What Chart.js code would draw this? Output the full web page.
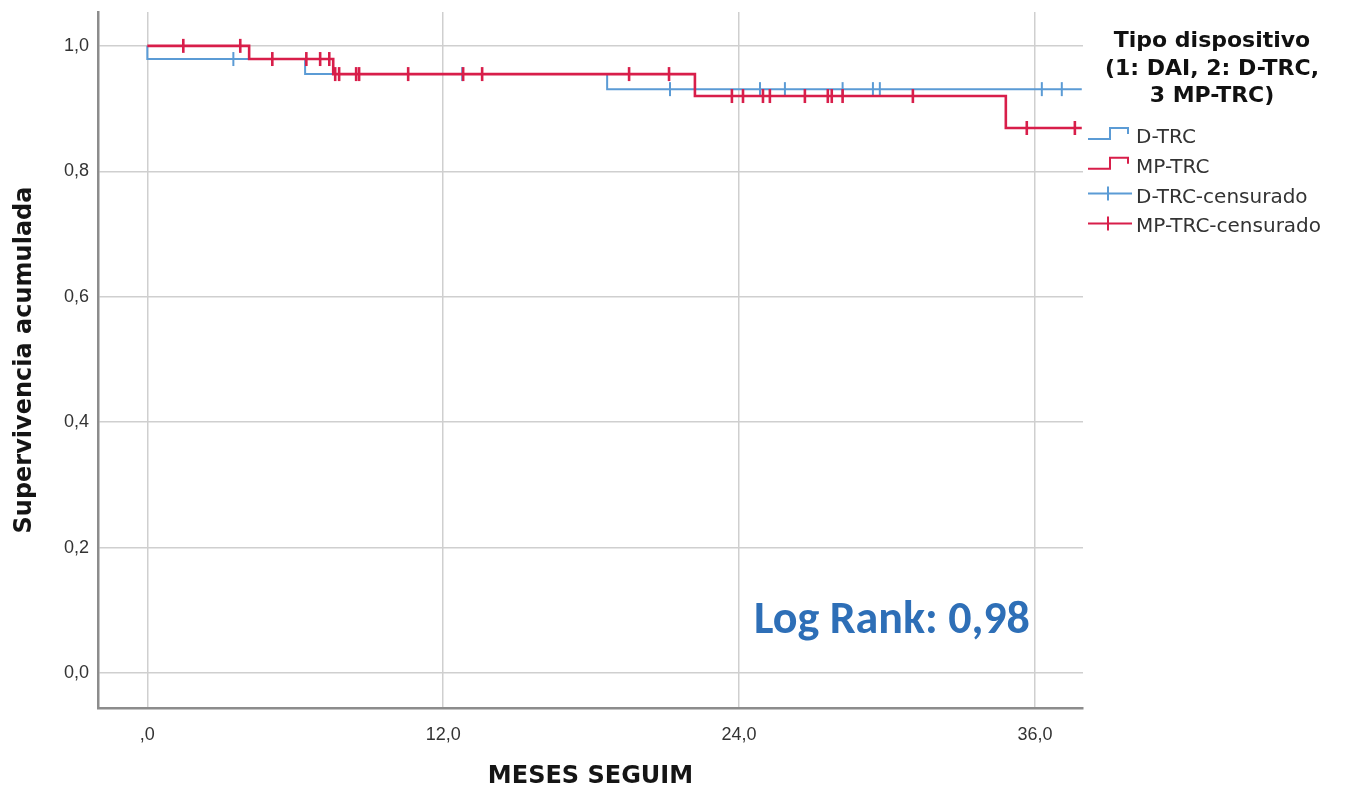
<!DOCTYPE html>
<html lang="es">
<head>
<meta charset="utf-8">
<title>Supervivencia acumulada por tipo de dispositivo</title>
<script src="https://cdn.jsdelivr.net/npm/chart.js@4.4.1/dist/chart.umd.min.js"></script>
<style>
  html, body { margin: 0; padding: 0; background: #fff; }
  #contenedor { width: 1349px; height: 793px; }
</style>
</head>
<body>
<div id="contenedor"><canvas id="graficoKM" width="1349" height="793"></canvas></div>
<script>
// Tiempos de evento (meses) y supervivencia tras cada evento
const tiemposDTRC = [0, 6.4, 18.65];
const supervDTRC = [0.979, 0.955, 0.931];
const tiemposMPTRC = [4.13, 7.54, 22.21, 34.82];
const supervMPTRC = [0.979, 0.955, 0.920, 0.869];
const seguimientoMax = 37.9;

// Tiempos censurados (meses)
const censDTRC = [3.49, 12.77, 21.2, 24.85, 25.86, 28.2, 29.43, 29.71, 36.28, 37.09];
const censMPTRC = [1.46, 3.77, 5.07, 6.45, 7.01, 7.38, 7.62, 7.78, 8.47, 8.59, 10.58, 12.81,
  13.58, 19.54, 21.16, 23.71, 24.16, 24.97, 25.25, 26.67, 27.6, 27.76, 28.2, 31.05, 35.67, 37.62];

// Ejes
const ticksX = [0, 12, 24, 36];
const ticksY = [0, 0.2, 0.4, 0.6, 0.8, 1.0];

// Leyenda
const tituloLeyenda = ["Tipo dispositivo", "(1: DAI, 2: D-TRC,", "3 MP-TRC)"];
const nombresSeries = ["D-TRC", "MP-TRC", "D-TRC-censurado", "MP-TRC-censurado"];
const textoLogRank = "Log Rank: 0,98";

const azul = "#5b9bd5";
const rojo = "#d81e4a";

// Construye la curva escalonada de Kaplan-Meier
function curvaKM(tiempos, superv, fin) {
  const puntos = [{ x: 0, y: 1 }];
  let anterior = 1;
  tiempos.forEach((t, i) => {
    puntos.push({ x: t, y: anterior });
    puntos.push({ x: t, y: superv[i] });
    anterior = superv[i];
  });
  puntos.push({ x: fin, y: anterior });
  return puntos;
}

// Supervivencia en un tiempo dado (para colocar las marcas de censura)
function supervEn(t, tiempos, superv) {
  let s = 1;
  tiempos.forEach((te, i) => { if (te <= t) s = superv[i]; });
  return s;
}

const coma = v => v.toFixed(1).replace(".", ",");

const pluginLeyenda = {
  id: "leyendaSpss",
  afterDraw(chart) {
    const ctx = chart.ctx;
    ctx.save();

    // titulo de la leyenda
    ctx.fillStyle = "#111";
    ctx.font = 'bold 22px "DejaVu Sans"';
    ctx.textAlign = "center";
    ctx.textBaseline = "alphabetic";
    tituloLeyenda.forEach((linea, i) => ctx.fillText(linea, 1212, 47 + i * 27.5));

    // elementos
    const colores = [azul, rojo, azul, rojo];
    ctx.font = '20px "DejaVu Sans"';
    ctx.textAlign = "left";
    nombresSeries.forEach((nombre, i) => {
      const base = 143 + i * 29.8;
      ctx.strokeStyle = colores[i];
      ctx.lineWidth = 2;
      ctx.beginPath();
      if (i < 2) {
        ctx.moveTo(1088, base - 4);
        ctx.lineTo(1110, base - 4);
        ctx.lineTo(1110, base - 15);
        ctx.lineTo(1128, base - 15);
        ctx.lineTo(1128, base - 9);
      } else {
        ctx.moveTo(1088, base - 9);
        ctx.lineTo(1132, base - 9);
        ctx.moveTo(1108, base - 16);
        ctx.lineTo(1108, base - 2);
      }
      ctx.stroke();
      ctx.fillStyle = "#333";
      ctx.fillText(nombre, 1136, base);
    });

    // texto Log Rank
    ctx.font = 'bold 100px Carlito, Lato';
    const ancho = ctx.measureText(textoLogRank).width;
    const tam = 100 * 276 / ancho;
    ctx.font = 'bold ' + tam.toFixed(1) + 'px Carlito, Lato';
    ctx.fillStyle = "#2e6fb7";
    ctx.fillText(textoLogRank, 754, 633);

    ctx.restore();
  }
};

document.addEventListener("DOMContentLoaded", function() {
  const ctx = document.getElementById("graficoKM").getContext("2d");

  new Chart(ctx, {
    type: "scatter",
    data: {
      datasets: [
        {
          label: "MP-TRC",
          data: curvaKM(tiemposMPTRC, supervMPTRC, seguimientoMax),
          showLine: true,
          borderColor: rojo,
          borderWidth: 2.6,
          pointRadius: 0,
          order: 1
        },
        {
          label: "D-TRC",
          data: curvaKM(tiemposDTRC, supervDTRC, seguimientoMax),
          showLine: true,
          borderColor: azul,
          borderWidth: 2,
          pointRadius: 0,
          order: 3
        },
        {
          label: "MP-TRC-censurado",
          data: censMPTRC.map(t => ({ x: t, y: supervEn(t, tiemposMPTRC, supervMPTRC) })),
          showLine: false,
          pointStyle: "line",
          rotation: 90,
          pointRadius: 7,
          borderColor: rojo,
          pointBorderWidth: 2.6,
          order: 0
        },
        {
          label: "D-TRC-censurado",
          data: censDTRC.map(t => ({ x: t, y: supervEn(t, tiemposDTRC, supervDTRC) })),
          showLine: false,
          pointStyle: "line",
          rotation: 90,
          pointRadius: 7,
          borderColor: azul,
          pointBorderWidth: 2,
          order: 2
        }
      ]
    },
    options: {
      responsive: false,
      animation: false,
      events: [],
      layout: { padding: { top: 12, right: 266, left: 0, bottom: 0 } },
      plugins: {
        legend: { display: false },
        tooltip: { enabled: false }
      },
      scales: {
        x: {
          type: "linear",
          min: -2,
          max: 37.95,
          afterFit: s => { s.height = 85; s.paddingLeft = 0; s.paddingRight = 0; },
          afterBuildTicks: s => { s.ticks = ticksX.map(v => ({ value: v })); },
          grid: { color: "#cfcfcf", lineWidth: 1.5, drawTicks: false },
          border: { color: "#8c8c8c", width: 2.5 },
          ticks: {
            padding: 16,
            color: "#333",
            font: { family: "Liberation Sans", size: 18 },
            callback: v => (v === 0 ? ",0" : coma(v))
          },
          title: {
            display: true,
            text: "MESES SEGUIM",
            color: "#151515",
            font: { family: "DejaVu Sans", size: 24, weight: "bold" },
            padding: { top: 0, bottom: 2 }
          }
        },
        y: {
          min: -0.0558,
          max: 1.054,
          afterFit: s => { s.width = 98; s.paddingTop = 0; s.paddingBottom = 0; },
          afterBuildTicks: s => { s.ticks = ticksY.map(v => ({ value: v })); },
          grid: { color: "#cfcfcf", lineWidth: 1.5, drawTicks: false },
          border: { color: "#8c8c8c", width: 2.5 },
          ticks: {
            padding: 9,
            color: "#333",
            font: { family: "Liberation Sans", size: 18 },
            callback: v => coma(v)
          },
          title: {
            display: true,
            text: "Supervivencia acumulada",
            color: "#151515",
            font: { family: "DejaVu Sans", size: 24, weight: "bold" },
            padding: { top: 10, bottom: 0 }
          }
        }
      }
    },
    plugins: [pluginLeyenda]
  });
});
</script>
</body>
</html>
